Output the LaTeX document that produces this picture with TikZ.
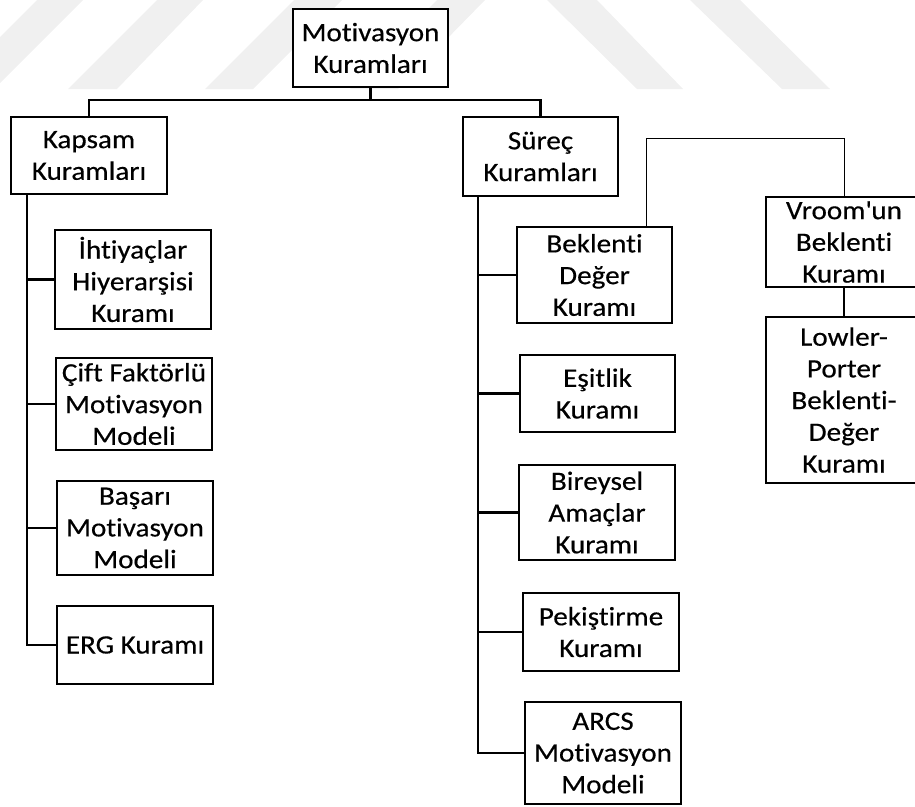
\documentclass[tikz,border=0pt]{standalone}
\usepackage{fontspec}
\setmainfont{Carlito}[FakeStretch=1.1, FakeBold=0.4, Ligatures={TeX,CommonOff}]
\begin{document}
\begin{tikzpicture}[x=1pt,y=-1pt,
  box/.style={draw, line width=2pt, inner sep=0pt, align=center,
    minimum width=156pt, font=\fontsize{26.5}{31.7}\selectfont},
  link/.style={line width=2.2pt},
  thinlink/.style={line width=1pt},
  wm/.style={fill=black!6, draw=none}]
\useasboundingbox (0,0) rectangle (915,806);
% faint watermark stripes
\begin{scope}
  \clip (0,0) rectangle (915,806);
  \fill[wm] (37,0) -- (83,0) -- (-6,89) -- (-52,89) -- cycle;
  \fill[wm] (157,0) -- (203,0) -- (117,89) -- (68,89) -- cycle;
  \fill[wm] (294,0) -- (342,0) -- (253,89) -- (205,89) -- cycle;
  \fill[wm] (437,0) -- (485,0) -- (398,89) -- (350,89) -- cycle;
  \fill[wm] (547,0) -- (597,0) -- (683,89) -- (637,89) -- cycle;
  \fill[wm] (690,0) -- (740,0) -- (830,89) -- (782,89) -- cycle;
\end{scope}
% boxes
\node[box, minimum width=155pt, minimum height=78pt, fill=white] (top) at (370.5,48) {Motivasyon\\Kuramları};
\node[box, minimum height=77pt] (kapsam) at (89,155.5) {Kapsam\\Kuramları};
\node[box, minimum height=99pt] (ihti) at (133,279.5) {İhtiyaçlar\\Hiyerarşisi\\Kuramı};
\node[box, minimum height=92pt] (cift) at (134,404) {Çift Faktörlü\\Motivasyon\\Modeli};
\node[box, minimum height=94pt] (basari) at (135,528) {Başarı\\Motivasyon\\Modeli};
\node[box, minimum height=78pt] (erg) at (135,645) {ERG Kuramı};
\node[box, minimum width=155pt, minimum height=79pt] (surec) at (540.5,156.5) {Süreç\\Kuramları};
\node[box, minimum width=155pt, minimum height=96pt] (bek) at (594.5,275) {Beklenti\\Değer\\Kuramı};
\node[box, minimum width=155pt, minimum height=77pt] (esit) at (597.5,393.5) {Eşitlik\\Kuramı};
\node[box, minimum height=95pt] (bir) at (597,512.5) {Bireysel\\Amaçlar\\Kuramı};
\node[box, minimum height=78pt] (pek) at (601,632) {Pekiştirme\\Kuramı};
\node[box, minimum height=102pt] (arcs) at (603,753) {ARCS\\Motivasyon\\Modeli};
\node[box, minimum height=90pt] (vroom) at (844,242) {Vroom\textquotesingle un\\Beklenti\\Kuramı};
\node[box, minimum height=166pt] (lowler) at (844,400) {Lowler-\\Porter\\Beklenti-\\Değer\\Kuramı};
% connectors
\coordinate (bus) at (370.5,100);
\draw[link] (top.south) -- (bus);
\draw[link] (kapsam.north) |- (bus) -| (surec.north);
\coordinate (kt) at (27,194);
\draw[link] (kt) |- (erg.west);
\draw[link] (kt |- ihti.west) -- (ihti.west);
\draw[link] (kt |- cift.west) -- (cift.west);
\draw[link] (kt |- basari.west) -- (basari.west);
\coordinate (st) at (478,196);
\draw[link] (st) |- (arcs.west);
\draw[link] (st |- bek.west) -- (bek.west);
\draw[link] (st |- esit.west) -- (esit.west);
\draw[link] (st |- bir.west) -- (bir.west);
\draw[link] (st |- pek.west) -- (pek.west);
\coordinate (bv) at (646,138);
\draw[thinlink] (bek.north -| bv) -- (bv) -| (vroom.north);
\draw[link] (vroom.south) -- (lowler.north);
\end{tikzpicture}
\end{document}
